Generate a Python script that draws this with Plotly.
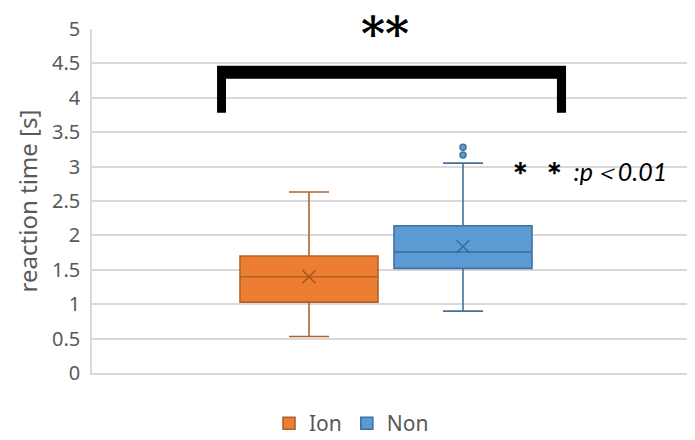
import plotly.graph_objects as go

# ---- data ----
categories = ["Ion", "Non"]
q1_vals = [1.03, 1.52]
median_vals = [1.40, 1.76]
q3_vals = [1.70, 2.14]
lower_fence = [0.53, 0.90]
upper_fence = [2.63, 3.05]
mean_vals = [1.40, 1.84]
outlier_cat = ["Non", "Non"]
outlier_vals = [3.17, 3.28]
y_ticks = [0, 0.5, 1, 1.5, 2, 2.5, 3, 3.5, 4, 4.5, 5]
y_tick_text = ["0", "0.5", "1", "1.5", "2", "2.5", "3", "3.5", "4", "4.5", "5"]

fill_colors = ["#ED7D31", "#5B9BD5"]
line_colors = ["#B0622A", "#41719C"]
mean_colors = ["#A3521C", "#3A6A96"]

FONT = "Noto Sans"
GRAY = "#595959"
GRID = "#D9D9D9"

positions = {c: i for i, c in enumerate(categories)}

fig = go.Figure()
for i, c in enumerate(categories):
    fig.add_trace(go.Box(
        x=[positions[c]], q1=[q1_vals[i]], median=[median_vals[i]], q3=[q3_vals[i]],
        lowerfence=[lower_fence[i]], upperfence=[upper_fence[i]],
        name=c, width=0.896, whiskerwidth=0.29, boxpoints=False,
        fillcolor=fill_colors[i], line=dict(color=line_colors[i], width=1.6),
        hoverinfo="skip",
    ))
for i, c in enumerate(categories):
    fig.add_trace(go.Scatter(
        x=[positions[c]], y=[mean_vals[i]], mode="markers", showlegend=False,
        marker=dict(symbol="x-thin-open", size=13, color=mean_colors[i],
                    line=dict(color=mean_colors[i], width=1.4)),
        hoverinfo="skip",
    ))
fig.add_trace(go.Scatter(
    x=[positions[c] for c in outlier_cat], y=outlier_vals, mode="markers", showlegend=False,
    marker=dict(symbol="circle", size=6, color=fill_colors[1], line=dict(color=line_colors[1], width=1.5)),
    hoverinfo="skip",
))

# significance bracket (filled outline polygon in data coords)
bx0, bx1, bx2, bx3 = -0.597, -0.539, 1.610, 1.669
by_top, by_in, by_bot = 4.465, 4.276, 3.782
path = (f"M {bx0},{by_bot} L {bx0},{by_top} L {bx3},{by_top} L {bx3},{by_bot} "
        f"L {bx2},{by_bot} L {bx2},{by_in} L {bx1},{by_in} L {bx1},{by_bot} Z")
fig.add_shape(type="path", path=path, xref="x", yref="y",
              fillcolor="black", line=dict(width=0), layer="above")

fig.add_annotation(x=0.494, y=4.93, xref="x", yref="y", text="<b>**</b>",
                   showarrow=False, font=dict(family="DejaVu Serif", size=46, color="black"),
                   xanchor="center", yanchor="middle")
fig.add_annotation(x=1.27, y=2.95, xref="x", yref="y",
                   text="<b><span style='font-size:27px'>＊ ＊</span></b><i> :p＜0.01</i>",
                   showarrow=False, font=dict(family="Lato", size=25, color="black"),
                   xanchor="left", yanchor="middle")

# the page places the figure 8px from the top-left corner
fig.update_layout(
    width=687, height=432,
    margin=dict(l=84, r=5, t=21, b=67),
    paper_bgcolor="white", plot_bgcolor="white",
    font=dict(family=FONT, color=GRAY, size=19),
    showlegend=True,
    legend=dict(orientation="h", xref="container", yref="container",
                x=0.5, y=0.038, xanchor="center", yanchor="middle",
                font=dict(size=21, color=GRAY), itemwidth=30),
    xaxis=dict(range=[-1.409, 2.474], showticklabels=False, showgrid=False,
               zeroline=False, showline=True, linecolor=GRID, linewidth=1.5, ticks=""),
    yaxis=dict(range=[0, 5], tickvals=y_ticks, ticktext=y_tick_text,
               showgrid=True, gridcolor=GRID, gridwidth=1.5, zeroline=False,
               showline=True, linecolor=GRID, linewidth=1.5,
               tickfont=dict(size=20, color=GRAY), ticks="", ticklen=0,
               ticklabelstandoff=6,
               title=dict(text="reaction time [s]", font=dict(size=24, color=GRAY), standoff=8)),
)

fig.write_html("out.html")
